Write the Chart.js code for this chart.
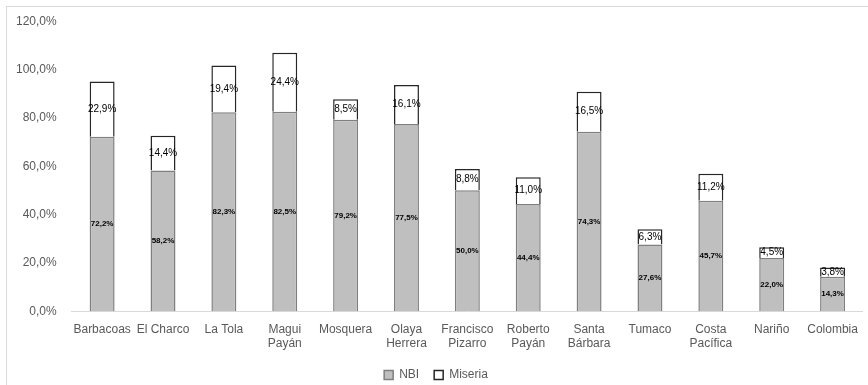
<!DOCTYPE html>
<html lang="es">
<head>
<meta charset="UTF-8">
<title>NBI y Miseria</title>
<script src="https://cdn.jsdelivr.net/npm/chart.js"></script>
<style>
  body { margin: 0; background: #fff; overflow: hidden; }
  #wrap { position: absolute; left: 6px; top: 6px; width: 900px; height: 420px; border: 1px solid #d9d9d9; }
  #chart { position: absolute; left: 0; top: 0; }
</style>
</head>
<body>
<div id="wrap"><canvas id="chart" width="856" height="384"></canvas></div>
<script>
  // municipios y porcentajes
  const municipios = ['Barbacoas', 'El Charco', 'La Tola', ['Magui', 'Payán'], 'Mosquera', ['Olaya', 'Herrera'],
    ['Francisco', 'Pizarro'], ['Roberto', 'Payán'], ['Santa', 'Bárbara'], 'Tumaco', ['Costa', 'Pacífica'], 'Nariño', 'Colombia'];
  const nbi = [72.2, 58.2, 82.3, 82.5, 79.2, 77.5, 50.0, 44.4, 74.3, 27.6, 45.7, 22.0, 14.3];
  const miseria = [22.9, 14.4, 19.4, 24.4, 8.5, 16.1, 8.8, 11.0, 16.5, 6.3, 11.2, 4.5, 3.8];

  const fmt = v => v.toFixed(1).replace('.', ',') + '%';
  const FONT = "'Liberation Sans', Arial, sans-serif";

  // etiquetas dentro de cada segmento
  const barLabels = {
    id: 'barLabels',
    afterDatasetsDraw(chart) {
      const ctx = chart.ctx;
      ctx.save();
      ctx.textAlign = 'center';
      ctx.textBaseline = 'middle';
      chart.data.datasets.forEach((ds, i) => {
        chart.getDatasetMeta(i).data.forEach((bar, j) => {
          const y = (bar.y + bar.base) / 2;
          ctx.fillStyle = '#000';
          ctx.font = i === 0 ? "bold 8px " + FONT : "10px " + FONT;
          ctx.fillText(fmt(ds.data[j]), bar.x, y);
        });
      });
      ctx.restore();
    }
  };

  new Chart(document.getElementById('chart'), {
    type: 'bar',
    data: {
      labels: municipios,
      datasets: [{
        label: 'NBI',
        data: nbi,
        backgroundColor: '#bfbfbf',
        borderColor: '#7f7f7f',
        borderWidth: 1.5,
        barPercentage: 0.82,
        categoryPercentage: 0.5
      }, {
        label: 'Miseria',
        data: miseria,
        backgroundColor: '#ffffff',
        borderColor: '#262626',
        borderWidth: 1.5,
        barPercentage: 0.82,
        categoryPercentage: 0.5
      }]
    },
    options: {
      responsive: false,
      animation: false,
      layout: { padding: { left: 2, right: 0, top: 5, bottom: 0 } },
      plugins: {
        legend: {
          position: 'bottom',
          labels: {
            boxWidth: 9, boxHeight: 9, padding: 15,
            color: '#595959',
            font: { family: FONT, size: 12 }
          }
        },
        tooltip: { enabled: false }
      },
      scales: {
        x: {
          stacked: true,
          grid: { display: false },
          border: { color: '#d9d9d9', width: 1 },
          ticks: { color: '#595959', font: { family: FONT, size: 12 }, maxRotation: 0, autoSkip: false, padding: 3 }
        },
        y: {
          stacked: true,
          min: 0, max: 120,
          grid: { display: false },
          border: { display: false },
          ticks: { stepSize: 20, color: '#595959', font: { family: FONT, size: 12 }, padding: 7, callback: v => fmt(v) }
        }
      }
    },
    plugins: [barLabels]
  });
</script>
</body>
</html>
